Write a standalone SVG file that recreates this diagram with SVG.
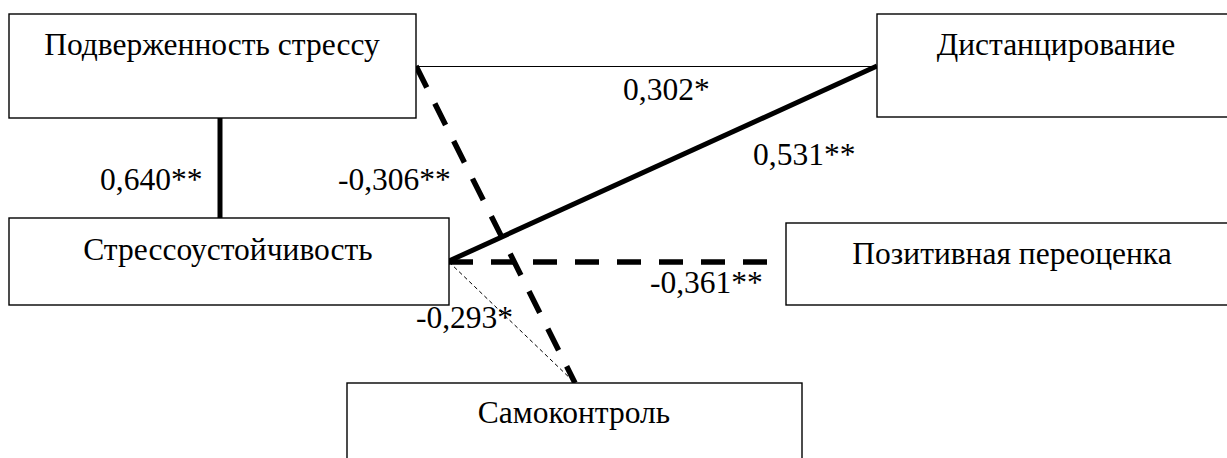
<svg xmlns="http://www.w3.org/2000/svg" width="1227" height="458" viewBox="0 0 1227 458">
<style>
.box{fill:#fff;stroke:#000;stroke-width:1.4}
.c{text-anchor:middle}
.thick{stroke:#000;stroke-width:5;fill:none}
.dash{stroke:#000;stroke-width:5.5;fill:none;stroke-dasharray:24 18}
.thin{stroke:#000;stroke-width:1.2;fill:none}
.thindash{stroke:#000;stroke-width:1;fill:none;stroke-dasharray:4 3}
</style>
<rect width="1227" height="458" fill="#fff"/>
<g id="connectors">
<line class="thin" x1="416" y1="66.5" x2="877" y2="66.5"/>
<line class="thick" x1="220" y1="118" x2="220" y2="218"/>
<line class="thick" x1="877" y1="66" x2="449" y2="261"/>
<line class="dash" x1="416" y1="66" x2="575" y2="383"/>
<line class="dash" x1="449" y1="262" x2="767" y2="262"/>
<line class="thindash" x1="449" y1="262" x2="575" y2="383"/>
</g>
<g font-family="Liberation Serif, Times New Roman, serif" font-size="31.5" fill="#000">
<g id="node-podverzhennost">
<rect class="box" x="9" y="14" width="407" height="104"/>
<text class="c" x="212" y="55">Подверженность стрессу</text>
</g>
<g id="node-distancirovanie">
<rect class="box" x="877" y="14" width="360" height="103"/>
<text class="c" x="1056" y="55">Дистанцирование</text>
</g>
<g id="node-stressoustoychivost">
<rect class="box" x="9" y="218" width="440" height="87"/>
<text class="c" x="228" y="260">Стрессоустойчивость</text>
</g>
<g id="node-pozitivnaya">
<rect class="box" x="786" y="223" width="450" height="82"/>
<text class="c" x="1012" y="264">Позитивная переоценка</text>
</g>
<g id="node-samokontrol">
<rect class="box" x="347" y="383" width="455" height="90"/>
<text class="c" x="574" y="423">Самоконтроль</text>
</g>
<g id="labels">
<text x="100" y="190">0,640**</text>
<text x="338" y="190">-0,306**</text>
<text x="623" y="100">0,302*</text>
<text x="753" y="165">0,531**</text>
<text x="650" y="293">-0,361**</text>
<text x="416" y="328">-0,293*</text>
</g>
</g>
</svg>
